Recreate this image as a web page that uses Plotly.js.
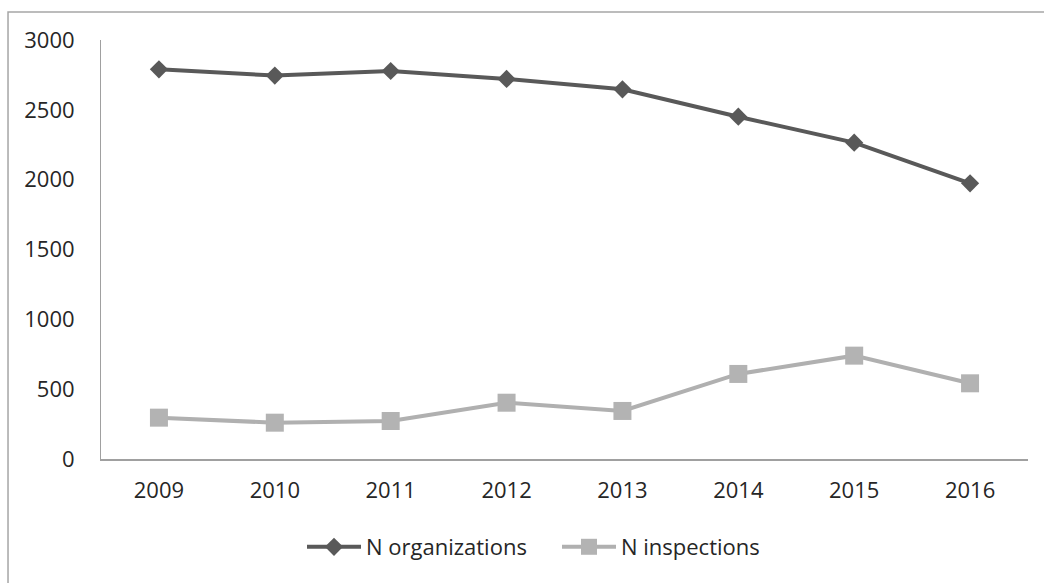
<!DOCTYPE html>
<html>
<head>
<meta charset="utf-8">
<script src="https://cdn.plot.ly/plotly-3.0.1.min.js"></script>
<style>html,body{margin:0;padding:0;background:#fff;overflow:hidden}#chart{width:1044px;height:583px}</style>
</head>
<body>
<div id="chart"></div>
<script>
var years = ['2009','2010','2011','2012','2013','2014','2015','2016'];
var organizations = [2790, 2745, 2778, 2721, 2647, 2451, 2265, 1974];
var inspections = [296, 260, 272, 403, 344, 609, 740, 542];
var yTicks = [0, 500, 1000, 1500, 2000, 2500, 3000];

var font = {family: '"Open Sans", "Noto Sans", sans-serif', size: 22, color: '#262626'};

var traces = [
  {x: years, y: organizations, name: 'N organizations', type: 'scatter', mode: 'lines+markers',
   line: {color: '#595959', width: 4}, marker: {symbol: 'diamond', size: 14, color: '#595959'}},
  {x: years, y: inspections, name: 'N inspections', type: 'scatter', mode: 'lines+markers',
   line: {color: '#b0b0b0', width: 4}, marker: {symbol: 'square', size: 18, color: '#b3b3b3'}}
];

var layout = {
  width: 1044, height: 583,
  margin: {l: 101, r: 16, t: 40, b: 124},
  paper_bgcolor: '#fff', plot_bgcolor: '#fff',
  font: font,
  showlegend: true,
  legend: {orientation: 'h', x: (302 - 101) / 927, xanchor: 'left', y: -0.21, yanchor: 'middle', font: font,
           itemwidth: 54, entrywidth: 186, entrywidthmode: 'pixels', itemclick: false},
  xaxis: {type: 'category', range: [-0.5, 7.5], showline: true, linecolor: '#a0a0a0', linewidth: 2,
          showgrid: false, zeroline: false, ticks: '', tickfont: font, ticklabelstandoff: 11, fixedrange: true},
  yaxis: {range: [0, 3000], tickvals: yTicks, showline: true, linecolor: '#a0a0a0', linewidth: 1,
          showgrid: false, zeroline: false, ticks: '', tickfont: font, ticklabelstandoff: 21, fixedrange: true},
  shapes: [
    {type: 'rect', xref: 'paper', yref: 'paper', x0: -0.1003, y0: 1.0668, x1: 1.3, y1: -0.6,
     line: {color: '#a6a6a6', width: 1.5}, fillcolor: 'rgba(0,0,0,0)'}
  ]
};

Plotly.newPlot('chart', traces, layout, {displayModeBar: false, staticPlot: true});
</script>
</body>
</html>
